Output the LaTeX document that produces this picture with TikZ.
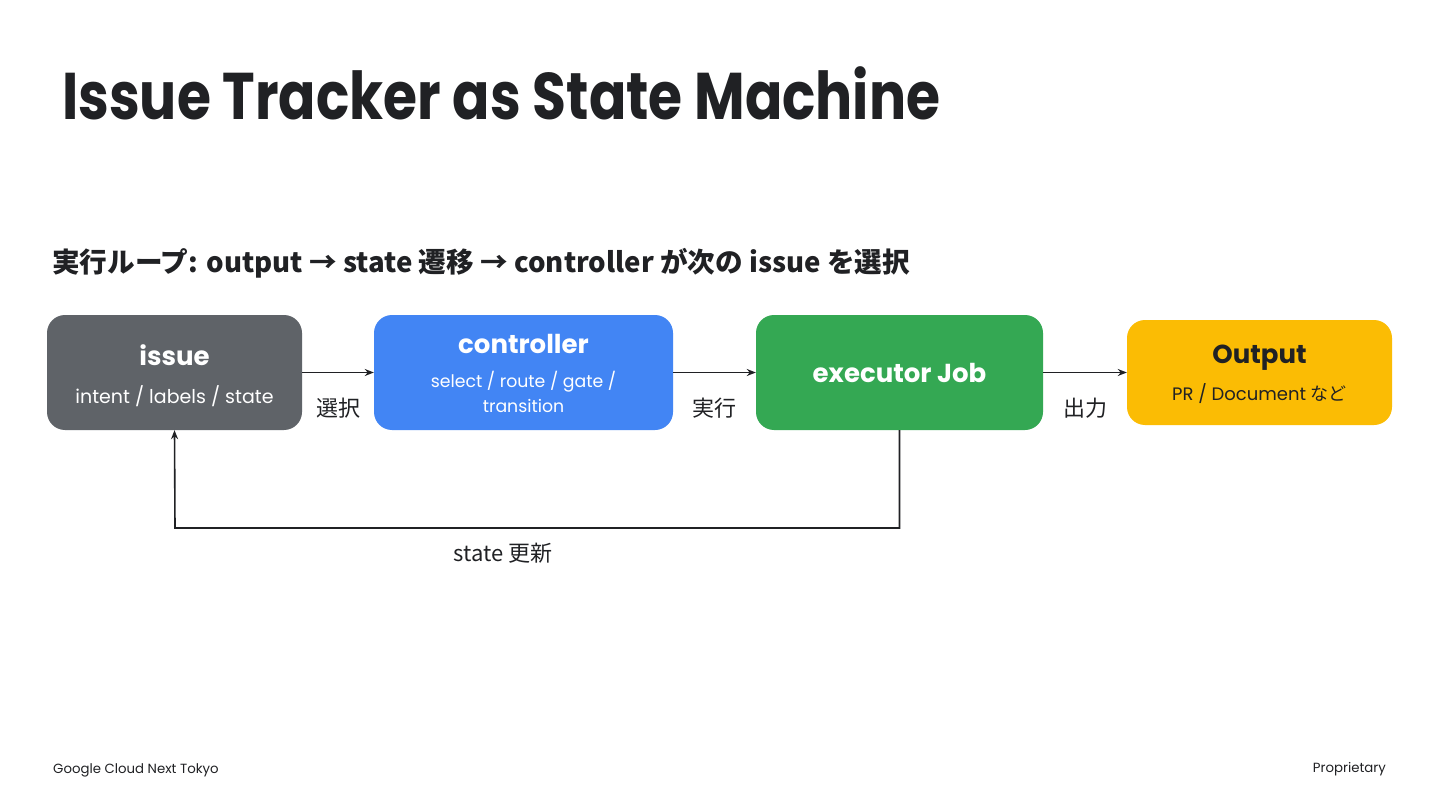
\documentclass[tikz,border=0pt]{standalone}
\usepackage{fontspec}
\setmainfont{Poppins}
\newfontfamily\titlefont[FakeStretch=0.835]{Poppins}
\newfontfamily\jp{Noto Sans CJK JP}
\usetikzlibrary{arrows.meta}
\definecolor{ink}{HTML}{202124}
\definecolor{gbox}{HTML}{5F6368}
\definecolor{bbox}{HTML}{4285F4}
\definecolor{grbox}{HTML}{34A853}
\definecolor{ybox}{HTML}{FBBC04}
\tikzset{
  box/.style={rounded corners=18pt, inner sep=0pt, draw=none},
  head/.style={text=white, font=\fontsize{26}{30}\selectfont\bfseries, inner sep=0pt},
  sub/.style={text=white, font=\fontsize{19}{23}\selectfont, inner sep=0pt},
  lbl/.style={text=ink, font=\jp\fontsize{22}{26}\selectfont, inner sep=0pt},
  conn/.style={draw=ink, line width=1.6pt, -{Stealth[length=9pt,width=7pt]}},
}
\begin{document}
\begin{tikzpicture}[x=1pt,y=-1pt]
\useasboundingbox[fill=white] (0,0) rectangle (1440,810);
% title
\node[anchor=base west, inner sep=0pt, text=ink, font=\titlefont\fontsize{66}{70}\selectfont\bfseries] (title) at (62,120) {Issue Tracker as State Machine};
\node[anchor=west, inner sep=0pt, text=ink, font=\jp\fontsize{27.6}{30}\selectfont\bfseries] (subtitle) at (52,263) {実行ループ: output → state 遷移 → controller が次の issue を選択};
% boxes
\node[box, fill=gbox, minimum width=255pt, minimum height=115pt] (issue) at (174.5,372.5) {};
\node[box, fill=bbox, minimum width=299pt, minimum height=115pt] (ctrl) at (523.5,372.5) {};
\node[box, fill=grbox, minimum width=287pt, minimum height=115pt] (exec) at (899.5,372.5) {};
\node[box, fill=ybox, minimum width=265pt, minimum height=105pt] (out) at (1259.5,372.5) {};
% box texts
\node[head] (issueh) at (174.5,355) {issue};
\node[sub] (issues) at (174.5,396) {intent / labels / state};
\node[head] (ctrlh) at (523.5,344) {controller};
\node[sub, font=\fontsize{17.3}{21}\selectfont] (ctrls1) at (523.5,382) {select / route / gate /};
\node[sub, font=\fontsize{17.3}{21}\selectfont] (ctrls2) at (523.5,406) {transition};
\node[head] (exech) at (899.5,373) {executor Job};
\node[head, text=ink] (outh) at (1259.5,358) {Output};
\node[sub, text=ink, font=\fontsize{18}{22}\selectfont] (outs) at (1259.5,394) {PR / Document {\jp など}};
% connectors
\draw[conn] (issue.east) -- (ctrl.west);
\draw[conn] (ctrl.east) -- (exec.west);
\draw[conn] (exec.east) -- (out.west);
\coordinate (c2) at (175,528);
\draw[conn] (exec.south) |- (c2) -- (issue.south);
% labels
\node[lbl] (l1) at (338,408) {選択};
\node[lbl] (l2) at (714,408) {実行};
\node[lbl] (l3) at (1085,408) {出力};
\node[lbl] (l4) at (503,553) {state 更新};
% footer
\node[anchor=west, inner sep=0pt, text=ink, font=\fontsize{13.3}{16}\selectfont] (foot1) at (53,770) {Google Cloud Next Tokyo};
\node[anchor=east, inner sep=0pt, text=ink, font=\fontsize{13.3}{16}\selectfont] (foot2) at (1386,769) {Proprietary};
\end{tikzpicture}
\end{document}
